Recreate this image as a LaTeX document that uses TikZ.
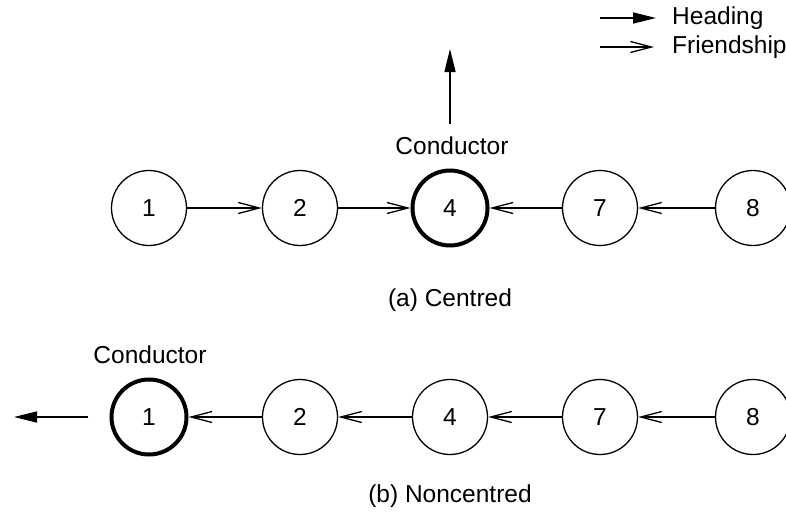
\documentclass[tikz,border=0pt]{standalone}
\usepackage{fontspec}
\setmainfont{Liberation Sans}
\usetikzlibrary{arrows.meta}
\begin{document}
\begin{tikzpicture}[x=1pt,y=-1pt,
  every node/.style={font=\fontsize{24.5}{28}\selectfont},
  agent/.style={circle,draw,line width=1.3pt,minimum size=75pt,inner sep=0pt},
  conductor/.style={agent,line width=4pt},
  friend/.style={line width=1.3pt,-{Straight Barb[length=21pt,width=11pt,line width=1.3pt]}},
  heading/.style={line width=1.3pt,-{Triangle[length=23pt,width=11pt]}},
  lbl/.style={inner sep=0pt,anchor=base}]
\useasboundingbox (0,0) rectangle (786,527);
% legend
\coordinate (h1) at (600,18); \coordinate (h2) at (656,18);
\draw[heading] (h1) -- (h2);
\node[anchor=west,inner sep=0pt] (hl) at (672,18) {Heading};
\coordinate (f1) at (600,47); \coordinate (f2) at (654,47);
\draw[friend] (f1) -- (f2);
\node[anchor=west,inner sep=0pt] (fl) at (672,47) {Friendship};
% row a
\node[agent] (a1) at (149,208) {1};
\node[agent] (a2) at (300,208) {2};
\node[conductor] (a4) at (450,208) {4};
\node[agent] (a7) at (600,208) {7};
\node[agent] (a8) at (753,208) {8};
\node[lbl] (ac) at (452,154) {Conductor};
\coordinate (ah1) at (450,124); \coordinate (ah2) at (450,49);
\draw[heading] (ah1) -- (ah2);
\draw[friend] (a1) -- (a2);
\draw[friend] (a2) -- (a4);
\draw[friend] (a7) -- (a4);
\draw[friend] (a8) -- (a7);
\node[lbl] (capa) at (450,306) {(a) Centred};
% row b
\node[conductor] (b1) at (149,417) {1};
\node[agent] (b2) at (300,417) {2};
\node[agent] (b4) at (450,417) {4};
\node[agent] (b7) at (600,417) {7};
\node[agent] (b8) at (753,417) {8};
\node[lbl] (bc) at (150,363) {Conductor};
\coordinate (bh1) at (88,417); \coordinate (bh2) at (14,417);
\draw[heading] (bh1) -- (bh2);
\draw[friend] (b2) -- (b1);
\draw[friend] (b4) -- (b2);
\draw[friend] (b7) -- (b4);
\draw[friend] (b8) -- (b7);
\node[lbl] (capb) at (450,502) {(b) Noncentred};
\end{tikzpicture}
\end{document}
